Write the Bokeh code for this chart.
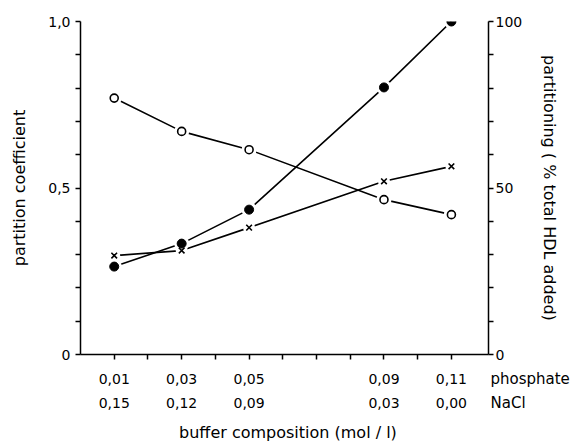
from bokeh.plotting import figure
from bokeh.layouts import column
from bokeh.models import Range1d, LinearAxis, FixedTicker, CustomJSTickFormatter
from bokeh.core.properties import value
from bokeh.embed import file_html
from bokeh.resources import INLINE

# ---- data ----
phosphate = [0.01, 0.03, 0.05, 0.09, 0.11]
phosphate_labels = ["0,01", "0,03", "0,05", "0,09", "0,11"]
nacl_labels = ["0,15", "0,12", "0,09", "0,03", "0,00"]
row_names = ["phosphate", "NaCl"]
x_minor = [0.02, 0.04, 0.06, 0.07, 0.08, 0.10]

open_coef = [0.77, 0.67, 0.615, 0.465, 0.42]        # partition coefficient (left)
cross_coef = [0.297, 0.312, 0.381, 0.52, 0.565]     # partition coefficient (left)
filled_pct = [26.4, 33.3, 43.5, 80.2, 100.0]        # partitioning % (right)

left_major = [0, 0.5, 1.0]
left_minor = [0.1, 0.2, 0.3, 0.4, 0.6, 0.7, 0.8, 0.9]
right_major = [0, 50, 100]
right_minor = [10, 20, 30, 40, 60, 70, 80, 90]

# ---- layout constants ----
FONT = "DejaVu Sans"
TICK_FS = "14px"
LAB_FS = "16px"
W = 573
LEFT, FRAME_W, FRAME_H, TOP, BOT = 80, 408, 333, 21, 8
RIGHT = W - LEFT - FRAME_W
X_END = 0.121
PPU = FRAME_W / X_END            # pixels per x unit
BOTTOM_H = 446 - (TOP + FRAME_H + BOT)
ROW1, ROW2, ROW3 = 16, 40, 70

xr = Range1d(0, X_END)
p = figure(frame_width=FRAME_W, frame_height=FRAME_H,
           x_range=xr, y_range=Range1d(0, 1.0),
           min_border_left=LEFT, min_border_right=RIGHT,
           min_border_top=TOP, min_border_bottom=BOT,
           output_backend="svg", toolbar_location=None)
p.extra_y_ranges = {"pct": Range1d(0, 100)}
p.grid.visible = False
p.outline_line_color = None


def style_axis(ax):
    ax.major_tick_in = 0
    ax.minor_tick_in = 0
    ax.major_tick_out = 5
    ax.minor_tick_out = 5
    ax.major_tick_line_width = 1.5
    ax.minor_tick_line_width = 1.5
    ax.axis_line_width = 1.5
    ax.major_label_text_font = FONT
    ax.major_label_text_font_size = TICK_FS
    ax.major_label_text_color = "black"
    ax.axis_label_text_font = FONT
    ax.axis_label_text_font_size = LAB_FS
    ax.axis_label_text_font_style = "normal"
    ax.axis_label_text_color = "black"


yl = p.yaxis[0]
style_axis(yl)
yl.ticker = FixedTicker(ticks=left_major, minor_ticks=left_minor)
yl.formatter = CustomJSTickFormatter(code="""
    if (Math.abs(tick) < 1e-9) return "0";
    return tick.toFixed(1).replace('.', ',');
""")
yl.major_label_standoff = 5
yl.axis_label = "partition coefficient"
yl.axis_label_standoff = 16

yr = LinearAxis(y_range_name="pct")
style_axis(yr)
yr.ticker = FixedTicker(ticks=right_major, minor_ticks=right_minor)
yr.major_label_standoff = 2
yr.axis_label = "partitioning ( % total HDL added)"
yr.axis_label_standoff = 15
p.add_layout(yr, "right")

xb = p.xaxis[0]
style_axis(xb)
xb.ticker = FixedTicker(ticks=phosphate, minor_ticks=x_minor)
xb.formatter = CustomJSTickFormatter(code="return '';")
xb.major_label_standoff = 0

# lines
p.line(phosphate, open_coef, line_color="black", line_width=1.6)
p.line(phosphate, cross_coef, line_color="black", line_width=1.6)
p.line(phosphate, filled_pct, y_range_name="pct", line_color="black", line_width=1.6)

# white halos -> small gaps where the lines meet the symbols
p.scatter(phosphate, open_coef, marker="circle", size=15, fill_color="white", line_color=None)
p.scatter(phosphate, filled_pct, y_range_name="pct", marker="circle", size=15,
          fill_color="white", line_color=None)
p.scatter(phosphate, cross_coef, marker="circle", size=12, fill_color="white", line_color=None)

# symbols
p.scatter(phosphate, open_coef, marker="circle", size=8, fill_color="white",
          line_color="black", line_width=1.6)
p.scatter(phosphate, filled_pct, y_range_name="pct", marker="circle", size=9,
          fill_color="black", line_color="black")
p.scatter(phosphate, cross_coef, marker="x", size=8, line_color="black", line_width=1.6)

# ---- bottom strip: the two label rows and the axis title (same x scale) ----
q = figure(frame_width=FRAME_W, frame_height=BOTTOM_H,
           x_range=xr, y_range=Range1d(BOTTOM_H, 0),
           min_border_left=LEFT, min_border_right=RIGHT, min_border_top=0, min_border_bottom=0,
           x_axis_location=None, y_axis_location=None,
           output_backend="svg", toolbar_location=None)
q.grid.visible = False
q.outline_line_color = None

q.text(x=phosphate, y=[ROW1] * len(phosphate), text=phosphate_labels,
       text_font=value(FONT), text_font_size=value(TICK_FS), text_color="black",
       text_align="center", text_baseline="middle")
q.text(x=phosphate, y=[ROW2] * len(phosphate), text=nacl_labels,
       text_font=value(FONT), text_font_size=value(TICK_FS), text_color="black",
       text_align="center", text_baseline="middle")
q.text(x=[(290 - LEFT) / PPU], y=[ROW3], text=["buffer composition  (mol / l)"],
       text_font=value(FONT), text_font_size=value(LAB_FS), text_color="black",
       text_align="center", text_baseline="middle")

# row names as labels of an invisible right axis of the strip
rn = LinearAxis()
rn.ticker = FixedTicker(ticks=[ROW1, ROW2])
rn.formatter = CustomJSTickFormatter(args=dict(rows=[ROW1, ROW2], names=row_names), code="""
    for (let i = 0; i < rows.length; i++) { if (Math.abs(rows[i] - tick) < 1e-6) return names[i]; }
    return "";
""")
rn.axis_line_color = None
rn.major_tick_line_color = None
rn.minor_tick_line_color = None
rn.major_tick_in = 0
rn.major_tick_out = 0
rn.minor_tick_in = 0
rn.minor_tick_out = 0
rn.major_label_standoff = 2
rn.major_label_text_font = FONT
rn.major_label_text_font_size = "15px"
rn.major_label_text_color = "black"
q.add_layout(rn, "right")

layout = column(p, q, spacing=0)
open("out.html", "w").write(file_html(layout, INLINE))
